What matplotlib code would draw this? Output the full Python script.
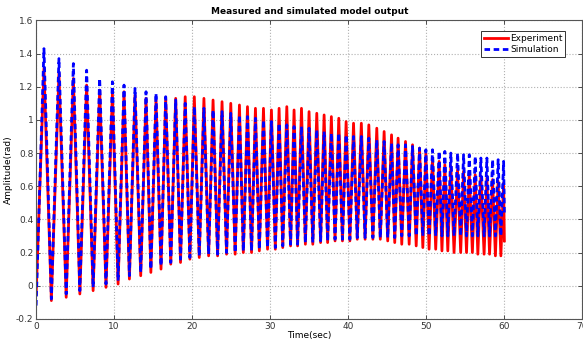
import numpy as np
import matplotlib
matplotlib.use('Agg')
import matplotlib.pyplot as plt
from matplotlib.ticker import FuncFormatter

# times of the peaks (sec)
peak_t = [1.00, 2.92, 4.77, 6.47, 8.14, 9.77, 11.26, 12.67, 14.08, 15.36,
          16.60, 17.88, 19.10, 20.27, 21.50, 22.67, 23.82, 24.94, 26.05, 27.08,
          28.10, 29.13, 30.15, 31.13, 32.12, 33.05, 34.00, 34.97, 35.96, 36.90,
          37.83, 38.78, 39.72, 40.67, 41.67, 42.63, 43.65, 44.59, 45.54, 46.38,
          47.33, 48.23, 49.13, 49.94, 50.79, 51.64, 52.37, 53.14, 54.00, 54.77,
          55.50, 56.26, 56.99, 57.76, 58.49, 59.20, 59.90]
# times of the troughs (first one is the start of the record)
trough_t = [0.00, 1.95, 3.85, 5.60, 7.30, 8.95, 10.50, 11.95, 13.40, 14.70,
            16.00, 17.25, 18.50, 19.70, 20.90, 22.10, 23.25, 24.40, 25.50, 26.55,
            27.60, 28.60, 29.65, 30.65, 31.60, 32.60, 33.50, 34.50, 35.45, 36.45,
            37.35, 38.30, 39.25, 40.20, 41.15, 42.15, 43.15, 44.10, 45.05, 45.95,
            46.85, 47.80, 48.70, 49.55, 50.35, 51.20, 52.00, 52.75, 53.55, 54.40,
            55.15, 55.90, 56.60, 57.40, 58.10, 58.85, 59.55]

exp_peak = [1.31, 1.28, 1.25, 1.21, 1.18, 1.16, 1.17, 1.15, 1.13, 1.12,
            1.13, 1.13, 1.14, 1.14, 1.13, 1.12, 1.11, 1.10, 1.09, 1.08,
            1.07, 1.07, 1.06, 1.07, 1.08, 1.06, 1.07, 1.05, 1.04, 1.03,
            1.02, 1.01, 0.99, 0.98, 0.98, 0.97, 0.95, 0.93, 0.91, 0.89,
            0.87, 0.85, 0.83, 0.80, 0.77, 0.75, 0.73, 0.72, 0.70, 0.69,
            0.68, 0.67, 0.66, 0.65, 0.64, 0.63, 0.62]
exp_trough = [-0.05, -0.09, -0.07, -0.05, -0.03, -0.01, 0.01, 0.04, 0.06, 0.08,
              0.10, 0.13, 0.14, 0.16, 0.17, 0.18, 0.18, 0.19, 0.19, 0.20,
              0.20, 0.21, 0.22, 0.22, 0.23, 0.24, 0.24, 0.25, 0.25, 0.26,
              0.26, 0.27, 0.27, 0.27, 0.28, 0.28, 0.28, 0.28, 0.27, 0.26,
              0.25, 0.25, 0.24, 0.23, 0.22, 0.22, 0.21, 0.21, 0.20, 0.20,
              0.20, 0.20, 0.19, 0.19, 0.19, 0.18, 0.18]

sim_peak = [1.43, 1.37, 1.34, 1.30, 1.25, 1.23, 1.21, 1.19, 1.17, 1.16,
            1.14, 1.12, 1.10, 1.08, 1.07, 1.06, 1.05, 1.04, 1.03, 1.02,
            1.01, 1.00, 0.99, 0.98, 0.97, 0.96, 0.96, 0.95, 0.94, 0.93,
            0.92, 0.92, 0.91, 0.90, 0.90, 0.89, 0.88, 0.87, 0.86, 0.85,
            0.85, 0.84, 0.83, 0.82, 0.82, 0.81, 0.81, 0.80, 0.80, 0.79,
            0.79, 0.78, 0.77, 0.77, 0.76, 0.76, 0.75]
sim_trough = [-0.12, -0.08, -0.05, -0.03, -0.01, 0.01, 0.03, 0.06, 0.08, 0.10,
              0.12, 0.14, 0.16, 0.17, 0.18, 0.19, 0.19, 0.20, 0.20, 0.21,
              0.21, 0.22, 0.23, 0.23, 0.24, 0.25, 0.25, 0.26, 0.26, 0.27,
              0.27, 0.28, 0.28, 0.28, 0.29, 0.29, 0.29, 0.29, 0.29, 0.29,
              0.30, 0.30, 0.30, 0.30, 0.30, 0.30, 0.30, 0.30, 0.30, 0.30,
              0.30, 0.30, 0.30, 0.30, 0.30, 0.30, 0.30]

# last sample at t = 60 s
end_t = 60.0
exp_end = 0.27
sim_end = 0.44


def series(tr_t, pk_t, tr_v, pk_v, e_t, e_v):
    t = np.column_stack([tr_t, pk_t]).ravel()
    v = np.column_stack([tr_v, pk_v]).ravel()
    return np.append(t, e_t), np.append(v, e_v)


t_exp, y_exp = series(trough_t, peak_t, exp_trough, exp_peak, end_t, exp_end)
t_sim, y_sim = series(trough_t, peak_t, sim_trough, sim_peak, end_t, sim_end)

plt.rcParams['font.family'] = 'DejaVu Sans'
fig = plt.figure(figsize=(5.83, 3.41), dpi=100)
ax = fig.add_axes([0.062, 0.065, 0.937, 0.875])

ax.plot(t_exp, y_exp, color='#ff0000', lw=2.0, label='Experiment')
ax.plot(t_sim, y_sim, color='#0000ff', lw=2.0, ls=(0, (2.0, 1.3)),
        label='Simulation')

ax.set_xlim(0, 70)
ax.set_ylim(-0.2, 1.6)
ax.set_xticks(np.arange(0, 71, 10))
ax.set_yticks(np.arange(-0.2, 1.61, 0.2))
ax.yaxis.set_major_formatter(FuncFormatter(lambda v, p: '%g' % round(v, 2)))
ax.tick_params(direction='in', labelsize=6.5, length=3, width=0.6, pad=2,
               top=True, right=True, colors='#333333')
ax.grid(True, ls=':', color='#b0b0b0', lw=0.8)
for s in ax.spines.values():
    s.set_color('#555555')
    s.set_linewidth(0.8)

ax.set_title('Measured and simulated model output', fontsize=6.5,
             fontweight='bold', pad=5)
ax.set_xlabel('Time(sec)', fontsize=6.5, labelpad=0)
ax.set_ylabel('Amplitude(rad)', fontsize=6.5, labelpad=2)

leg = ax.legend(loc='upper right', bbox_to_anchor=(0.969, 0.963),
                borderaxespad=0, fontsize=6.5, handlelength=2.6,
                fancybox=False, framealpha=1, edgecolor='#333333',
                borderpad=0.3, labelspacing=0.2, handletextpad=0.3)
leg.get_frame().set_linewidth(0.7)

fig.savefig('out.png', dpi=100)
